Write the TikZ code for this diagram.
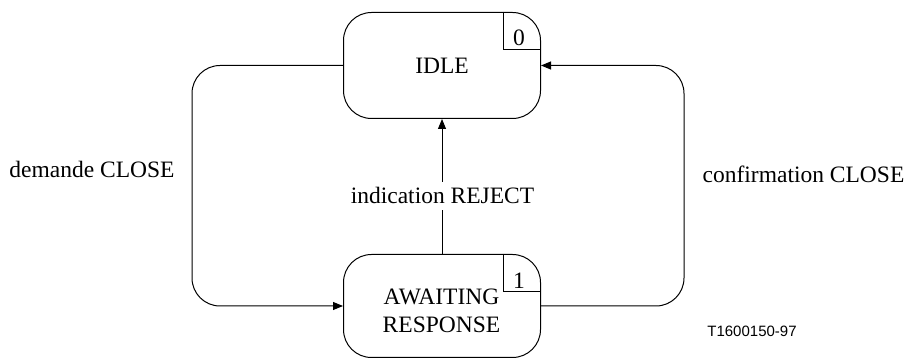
\documentclass[tikz,border=0pt]{standalone}
\usepackage{fontspec}
\setmainfont{Liberation Serif}
\newfontfamily\arialfont{Liberation Sans}
\usetikzlibrary{arrows.meta,calc}
\begin{document}
\begin{tikzpicture}[x=1pt,y=-1pt,
  statebox/.style={draw, line width=1pt, rounded corners=28pt, minimum width=197pt, inner sep=0pt},
  conn/.style={line width=1pt, -{Triangle[length=10pt,width=8pt]}},
  lbl/.style={font=\fontsize{23.5}{28}\selectfont, inner sep=0pt},
  numbox/.style={line width=1pt},
]
\useasboundingbox (0,0) rectangle (906,358);
% states
\node[statebox, lbl, minimum height=106pt, anchor=north west] (idle) at (343,12) {IDLE};
\node[statebox, minimum height=103pt, anchor=north west] (await) at (343,254) {};
\node[lbl, align=center, anchor=base] (awaittext) at (441.5,333) {AWAITING\\RESPONSE};
% state number boxes
\draw[numbox] ($(idle.north east)+(-38,0)$) -- ++(0,38) -- ++(38,0);
\node[lbl] (idleno) at ($(idle.north east)+(-22,26)$) {0};
\draw[numbox] ($(await.north east)+(-38,0)$) -- ++(0,38) -- ++(38,0);
\node[lbl] (awaitno) at ($(await.north east)+(-22,27)$) {1};
% transitions
\draw[conn, rounded corners=28pt] (idle.west) -- ++(-151,0) |- (await.west);
\draw[conn, rounded corners=28pt] (await.east) -- ++(143,0) |- (idle.east);
\draw[conn] (await.north) -- (idle.south);
% labels
\node[lbl, anchor=base] (demande) at (92,178) {demande CLOSE};
\node[lbl, anchor=base] (confirm) at (803.5,183) {confirmation CLOSE};
\node[lbl, anchor=base, fill=white, inner xsep=3pt, inner ysep=6pt] (reject) at (442.5,204) {indication REJECT};
\node[font=\arialfont\fontsize{15}{18}\selectfont, anchor=base, inner sep=0pt] (ref) at (752,337) {T1600150-97};
\end{tikzpicture}
\end{document}
